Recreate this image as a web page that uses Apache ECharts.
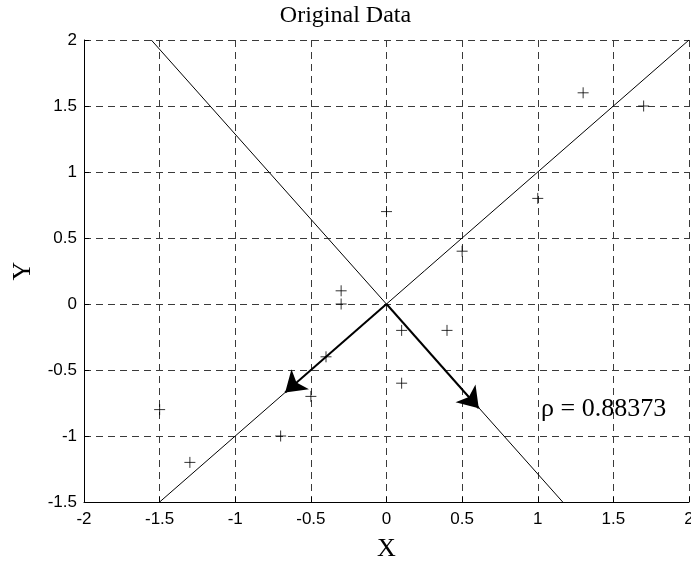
<!DOCTYPE html>
<html>
<head>
<meta charset="utf-8">
<script src="https://cdn.jsdelivr.net/npm/echarts@6/dist/echarts.min.js"></script>
<style>
html,body{margin:0;padding:0;background:#fff;}
#chart{width:691px;height:562px;}
</style>
</head>
<body>
<div id="chart"></div>
<script>
// Data points (x, y)
const pointsX = [-1.5, -1.3, -0.7, -0.5, -0.4, -0.3, -0.3, 0.0, 0.1, 0.1, 0.4, 0.5, 1.0, 1.3, 1.7];
const pointsY = [-0.8, -1.2, -1.0, -0.7, -0.4, 0.1, 0.0, 0.7, -0.2, -0.6, -0.2, 0.4, 0.8, 1.6, 1.5];
// Principal axis lines (endpoints)
const axisLine1 = [[-1.5, -1.5], [2.0, 2.0]];
const axisLine2 = [[-1.555, 2.0], [1.165, -1.5]];
// Arrows from origin
const arrowStart = [0, 0];
const arrowTips = [[-0.67, -0.67], [0.61, -0.79]];
// Ticks
const xTicks = [-2, -1.5, -1, -0.5, 0, 0.5, 1, 1.5, 2];
const yTicks = [-1.5, -1, -0.5, 0, 0.5, 1, 1.5, 2];
const rhoText = 'ρ = 0.88373';
const titleText = 'Original Data';

const points = pointsX.map((x, i) => [x, pointsY[i]]);
const serif = '"Liberation Serif", "Times New Roman", serif';
const sans = '"Liberation Sans", Arial, sans-serif';

const chart = echarts.init(document.getElementById('chart'), null, {renderer: 'canvas'});
const gridLine = {show: true, lineStyle: {color: '#3a3a3a', type: [7, 5], width: 1}};
chart.setOption({
  animation: false,
  backgroundColor: '#fff',
  title: {
    text: titleText, left: 'center', top: -1,
    textStyle: {fontFamily: serif, fontWeight: 'normal', fontSize: 24, color: '#000'}
  },
  grid: {left: 84, right: 2, top: 40, bottom: 60, containLabel: false, outerBoundsMode: 'none'},
  xAxis: {
    type: 'value', min: xTicks[0], max: xTicks[xTicks.length - 1], interval: 0.5,
    name: 'X', nameLocation: 'middle', nameGap: 34,
    nameTextStyle: {fontFamily: serif, fontSize: 26, color: '#000'},
    axisLine: {show: true, onZero: false, lineStyle: {color: '#000', width: 1}},
    axisTick: {show: true, inside: true, length: 5, lineStyle: {color: '#000'}},
    axisLabel: {fontFamily: sans, fontSize: 17, color: '#000', margin: 9,
      formatter: v => String(v)},
    splitLine: gridLine
  },
  yAxis: {
    type: 'value', min: yTicks[0], max: yTicks[yTicks.length - 1], interval: 0.5,
    name: 'Y', nameLocation: 'middle', nameGap: 48, nameRotate: 90,
    nameTextStyle: {fontFamily: serif, fontSize: 26, color: '#000'},
    axisLine: {show: true, onZero: false, lineStyle: {color: '#000', width: 1}},
    axisTick: {show: true, inside: true, length: 5, lineStyle: {color: '#000'}},
    axisLabel: {fontFamily: sans, fontSize: 17, color: '#000', margin: 7,
      formatter: v => String(v)},
    splitLine: gridLine
  },
  series: [
    {
      type: 'line', data: axisLine1, showSymbol: false, symbol: 'none',
      lineStyle: {color: '#000', width: 1}, z: 3
    },
    {
      type: 'line', data: axisLine2, showSymbol: false, symbol: 'none',
      lineStyle: {color: '#000', width: 1}, z: 3
    },
    {
      type: 'lines', coordinateSystem: 'cartesian2d',
      data: arrowTips.map(t => ({coords: [arrowStart, t]})),
      symbol: ['none', 'arrow'], symbolSize: [11, 20],
      lineStyle: {color: '#000', width: 2, opacity: 1, curveness: 0},
      itemStyle: {color: '#000'},
      z: 4
    },
    {
      type: 'scatter', data: points,
      symbol: 'path://M0,5L10,5M5,0L5,10', symbolSize: 11,
      itemStyle: {color: 'rgba(0,0,0,0)', borderColor: '#000', borderWidth: 1},
      z: 5
    }
  ],
  graphic: [{
    type: 'text', left: 541, top: 396,
    style: {text: rhoText, font: '26px ' + serif, fill: '#000'}
  }]
});
</script>
</body>
</html>
